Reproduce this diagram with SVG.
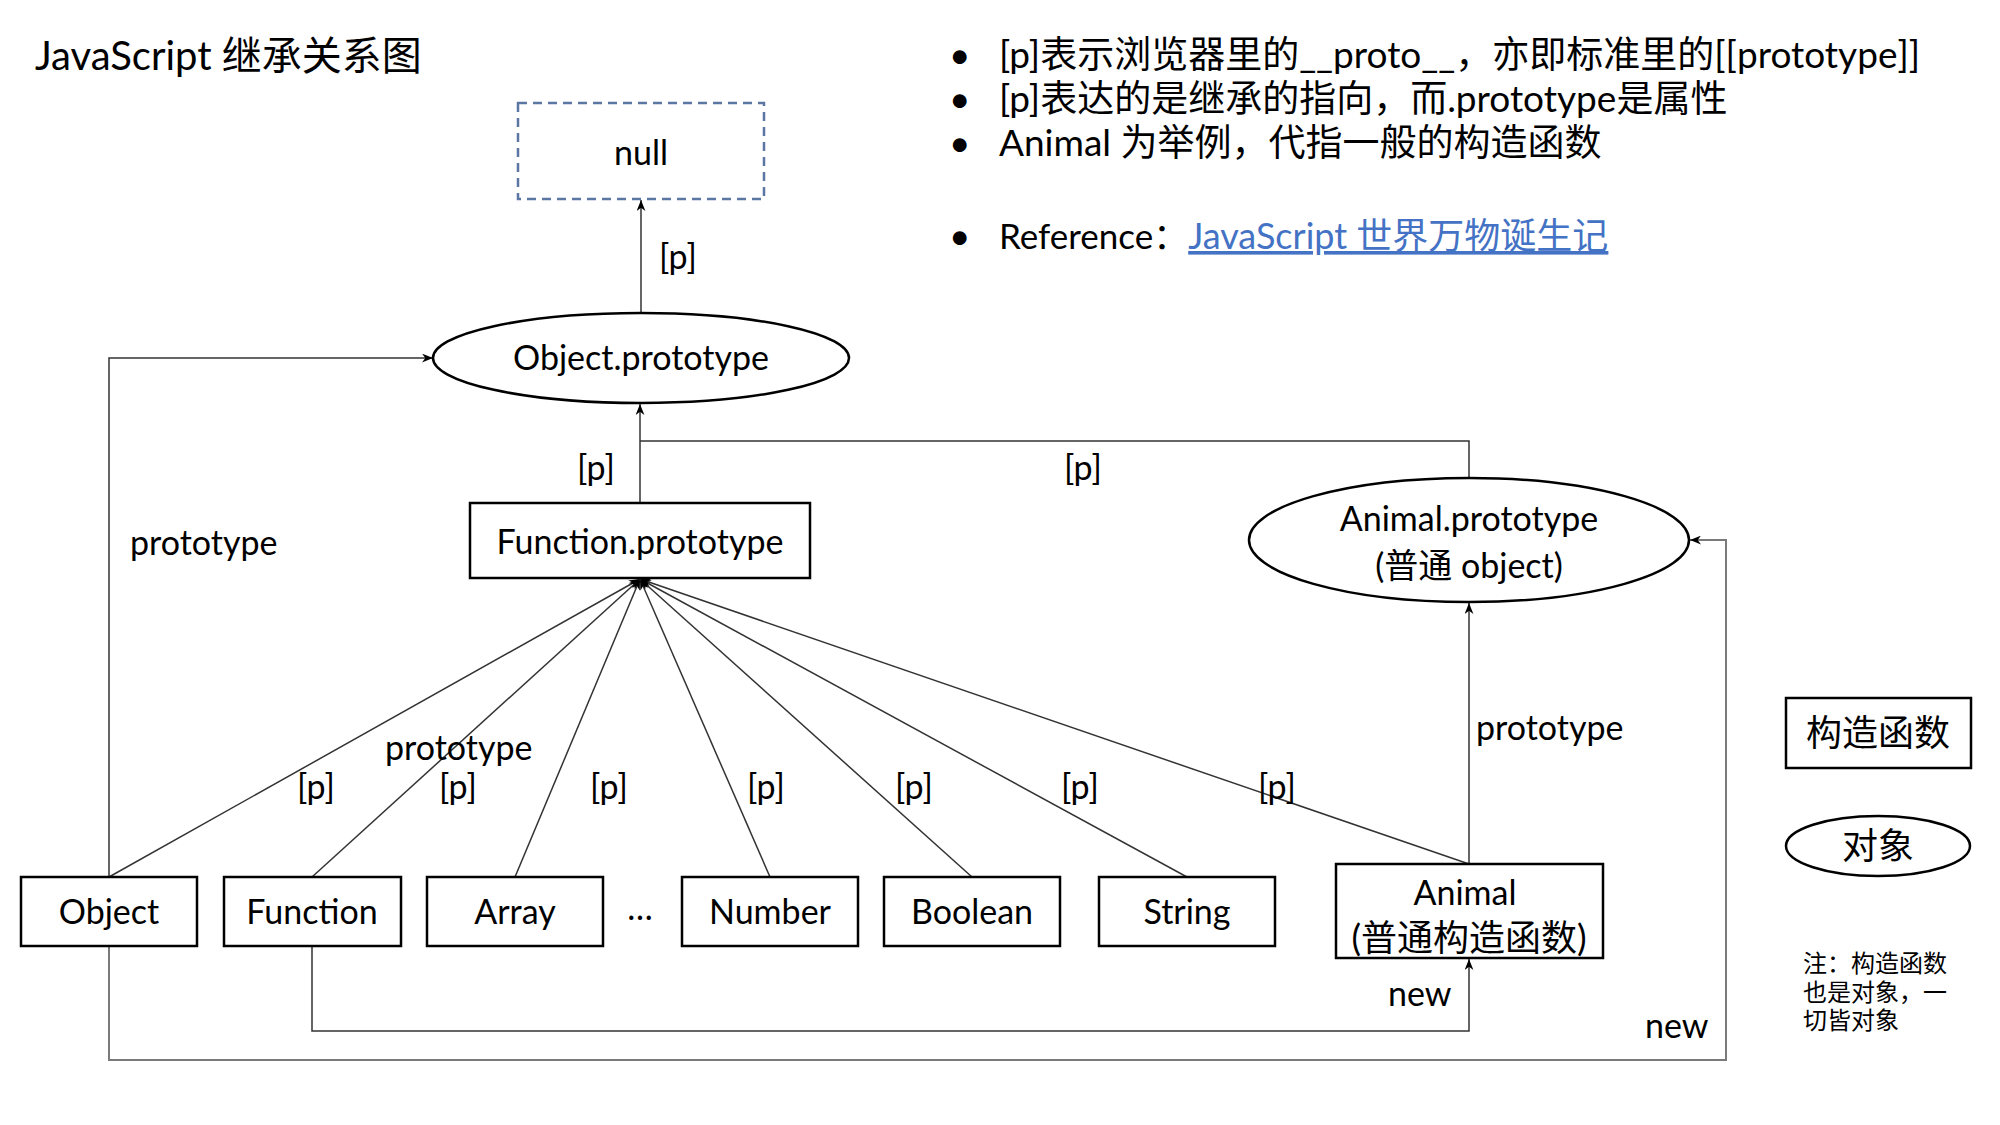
<svg xmlns="http://www.w3.org/2000/svg" width="2000" height="1125" viewBox="0 0 2000 1125">
<defs>
<marker id="arr" viewBox="0 0 10 8" refX="10" refY="4" markerWidth="11" markerHeight="9" markerUnits="userSpaceOnUse" orient="auto">
<path d="M0,0 L10,4 L0,8 L3,4 z" fill="#000"/>
</marker>
</defs>
<style>
text{font-family:Lato,"Noto Sans CJK SC",sans-serif;fill:#000}
.lbl{font-size:34px}
.big{font-size:36px}
.note{font-size:37px}
.mid{text-anchor:middle}
.box{fill:#fff;stroke:#000;stroke-width:2.5}
.conn{fill:none;stroke:#333;stroke-width:1.5}
.outer{fill:none;stroke:#7a7a7a;stroke-width:2}
</style>
<rect width="2000" height="1125" fill="#fff"/>

<text x="35" y="70" style="font-size:40px">JavaScript 继承关系图</text>

<g id="notes">
<text x="949" y="68" class="note">•</text>
<text x="999" y="68" class="note">[p]表示浏览器里的__proto__，亦即标准里的[[prototype]]</text>
<text x="949" y="112" class="note">•</text>
<text x="999" y="112" class="note">[p]表达的是继承的指向，而.prototype是属性</text>
<text x="949" y="156" class="note">•</text>
<text x="999" y="156" class="note">Animal 为举例，代指一般的构造函数</text>
<text x="949" y="249" class="note">•</text>
<text x="999" y="249" style="font-size:35px">Reference：<tspan fill="#4472C4" text-decoration="underline" style="font-size:36px">JavaScript 世界万物诞生记</tspan></text>
</g>

<g id="connectors">
<path class="conn" d="M641,313 V200" marker-end="url(#arr)"/>
<path class="conn" d="M640,503 V404" marker-end="url(#arr)"/>
<path class="conn" d="M1469,478 V441 H640"/>
<path class="conn" d="M109,877 V358 H433" marker-end="url(#arr)"/>
<path class="outer" d="M109,946 V1060 H1726 V540 H1690" marker-end="url(#arr)"/>
<path class="conn" d="M312,946 V1031 H1469 V959" marker-end="url(#arr)"/>
<path class="conn" d="M1469,864 V603" marker-end="url(#arr)"/>
<path class="conn" d="M109,877 L640,579" marker-end="url(#arr)"/>
<path class="conn" d="M312,877 L640,579" marker-end="url(#arr)"/>
<path class="conn" d="M515,877 L640,579" marker-end="url(#arr)"/>
<path class="conn" d="M770,877 L640,579" marker-end="url(#arr)"/>
<path class="conn" d="M972,877 L640,579" marker-end="url(#arr)"/>
<path class="conn" d="M1187,877 L640,579" marker-end="url(#arr)"/>
<path class="conn" d="M1469,864 L640,579" marker-end="url(#arr)"/>
<text class="lbl mid" x="678" y="269">[p]</text>
<text class="lbl mid" x="596" y="480">[p]</text>
<text class="lbl mid" x="1083" y="480">[p]</text>
<text class="lbl" x="130" y="555">prototype</text>
<text class="lbl" x="385" y="760">prototype</text>
<text class="lbl" x="1476" y="740">prototype</text>
<text class="lbl mid" x="316" y="799">[p]</text>
<text class="lbl mid" x="458" y="799">[p]</text>
<text class="lbl mid" x="609" y="799">[p]</text>
<text class="lbl mid" x="766" y="799">[p]</text>
<text class="lbl mid" x="914" y="799">[p]</text>
<text class="lbl mid" x="1080" y="799">[p]</text>
<text class="lbl mid" x="1277" y="799">[p]</text>
<text class="lbl" x="1388" y="1006">new</text>
<text class="lbl" x="1645" y="1038">new</text>
</g>

<g id="null">
<rect x="518" y="103" width="246" height="96" fill="#fff" stroke="#5b76a3" stroke-width="2.5" stroke-dasharray="9 6"/>
<text class="lbl mid" x="641" y="165">null</text>
</g>
<g id="object-prototype">
<ellipse class="box" cx="641" cy="358" rx="208" ry="45"/>
<text class="lbl mid" x="641" y="370">Object.prototype</text>
</g>
<g id="function-prototype">
<rect class="box" x="470" y="503" width="340" height="75"/>
<text class="lbl mid" x="640" y="554">Function.prototype</text>
</g>
<g id="animal-prototype">
<ellipse class="box" cx="1469" cy="540" rx="220" ry="62"/>
<text class="lbl mid" x="1469" y="531">Animal.prototype</text>
<text class="lbl mid" x="1469" y="578">(普通 object)</text>
</g>
<g id="object">
<rect class="box" x="21" y="877" width="176" height="69"/>
<text class="lbl mid" x="109" y="924">Object</text>
</g>
<g id="function">
<rect class="box" x="224" y="877" width="177" height="69"/>
<text class="lbl mid" x="312" y="924">Function</text>
</g>
<g id="array">
<rect class="box" x="427" y="877" width="176" height="69"/>
<text class="lbl mid" x="515" y="924">Array</text>
</g>
<g id="ellipsis">
<text class="lbl mid" x="640" y="920">…</text>
</g>
<g id="number">
<rect class="box" x="682" y="877" width="176" height="69"/>
<text class="lbl mid" x="770" y="924">Number</text>
</g>
<g id="boolean">
<rect class="box" x="884" y="877" width="176" height="69"/>
<text class="lbl mid" x="972" y="924">Boolean</text>
</g>
<g id="string">
<rect class="box" x="1099" y="877" width="176" height="69"/>
<text class="lbl mid" x="1187" y="924">String</text>
</g>
<g id="animal">
<rect class="box" x="1336" y="864" width="267" height="94"/>
<text class="lbl mid" x="1465" y="905">Animal</text>
<text class="big mid" x="1469" y="951">(普通构造函数)</text>
</g>
<g id="legend-constructor">
<rect class="box" x="1786" y="698" width="185" height="70"/>
<text class="big mid" x="1878" y="746">构造函数</text>
</g>
<g id="legend-object">
<ellipse class="box" cx="1878" cy="846" rx="92" ry="30"/>
<text class="big mid" x="1878" y="859">对象</text>
</g>
<g id="note">
<text x="1803" y="972" style="font-size:24px">注：构造函数</text>
<text x="1803" y="1001" style="font-size:24px">也是对象，一</text>
<text x="1803" y="1029" style="font-size:24px">切皆对象</text>
</g>
</svg>
